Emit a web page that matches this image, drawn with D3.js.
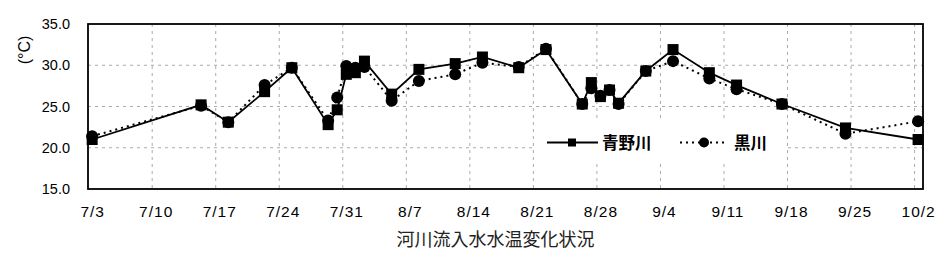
<!DOCTYPE html>
<html><head><meta charset="utf-8">
<script src="https://cdn.jsdelivr.net/npm/d3@7"></script>
<style>body{margin:0;background:#fff}</style>
</head><body>
<svg id="c" width="940" height="280"></svg>
<script>
const dates = ["7/3","7/15","7/18","7/22","7/25","7/29","7/30","7/31","8/1","8/2","8/5","8/8","8/12","8/15","8/19","8/22","8/26","8/27","8/28","8/29","8/30","9/2","9/5","9/9","9/12","9/17","9/24","10/2"];
const aono = [21.0,25.2,23.1,26.8,29.7,22.8,24.6,28.9,29.1,30.5,26.5,29.5,30.2,31.0,29.7,31.9,25.3,27.9,26.2,27.0,25.4,29.3,31.9,29.1,27.6,25.3,22.4,21.0];
const kuro = [21.4,25.1,23.1,27.6,29.7,23.3,26.1,29.9,29.7,29.8,25.7,28.1,28.9,30.3,29.8,32.0,25.3,27.2,26.3,27.0,25.3,29.3,30.5,28.4,27.1,25.3,21.7,23.2];
const xTickLabels = ["7/3","7/10","7/17","7/24","7/31","8/7","8/14","8/21","8/28","9/4","9/11","9/18","9/25","10/2"];
const yTicks = [15,20,25,30,35];
const seriesNames = ["青野川","黒川"];
const caption = "河川流入水水温変化状況";
const yTitle = "(°C)";

const parse = s => d3.timeParse("%Y/%m/%d")("2000/" + s);
const svg = d3.select("#c");
const L = 88, R = 923, T = 24, B = 189;
const x = d3.scaleTime()
  .domain([d3.timeHour.offset(parse("7/3"), -11), d3.timeHour.offset(parse("10/2"), 13)])
  .range([L, R]);
const y = d3.scaleLinear().domain([15, 35]).range([B, T]);

// gridlines
const g = svg.append("g");
g.selectAll("line.v").data(xTickLabels.slice(1)).enter().append("line")
  .attr("x1", d => x(parse(d)) - 3.5).attr("x2", d => x(parse(d)) - 3.5)
  .attr("y1", T).attr("y2", B)
  .attr("stroke", "#aaa").attr("stroke-width", 1).attr("stroke-dasharray", "3,4");
g.selectAll("line.h").data(yTicks.slice(1, -1)).enter().append("line")
  .attr("x1", L).attr("x2", R).attr("y1", d => y(d)).attr("y2", d => y(d))
  .attr("stroke", "#aaa").attr("stroke-width", 1).attr("stroke-dasharray", "3,4");

// legend background
svg.append("rect").attr("x", 536).attr("y", 118).attr("width", 249).attr("height", 42).attr("fill", "#fff");

// axes (labels via d3 axes)
const yAxis = d3.axisLeft(y).tickValues(yTicks).tickFormat(d3.format(".1f")).tickSize(0).tickPadding(18);
const ya = svg.append("g").attr("transform", `translate(${L},0)`).call(yAxis);
ya.select(".domain").remove();
ya.selectAll("text").attr("font-family", "Liberation Sans, Arial").attr("font-size", 14.5).attr("fill", "#000");

const xAxis = d3.axisBottom(x).tickValues(xTickLabels.map(parse)).tickFormat((d, i) => xTickLabels[i]).tickSize(0).tickPadding(17);
const xa = svg.append("g").attr("transform", `translate(0,${B})`).call(xAxis);
xa.select(".domain").remove();
xa.selectAll("text").attr("font-family", "Liberation Sans, Arial").attr("font-size", 15.5)
  .attr("letter-spacing", "1px").attr("fill", "#000");

// plot border
svg.append("rect").attr("x", L).attr("y", T).attr("width", R - L).attr("height", B - T)
  .attr("fill", "none").attr("stroke", "#000").attr("stroke-width", 1.8);

// series
const line = d3.line().x((d, i) => x(parse(dates[i]))).y(d => y(d));
svg.append("path").datum(aono).attr("d", line).attr("fill", "none").attr("stroke", "#000").attr("stroke-width", 1.8);
svg.selectAll("rect.a").data(aono).enter().append("rect")
  .attr("x", (d, i) => x(parse(dates[i])) - 5.5).attr("y", d => y(d) - 5.5)
  .attr("width", 11).attr("height", 11).attr("fill", "#000");
svg.append("path").datum(kuro).attr("d", line).attr("fill", "none").attr("stroke", "#000")
  .attr("stroke-width", 2).attr("stroke-dasharray", "2,4");
svg.selectAll("circle.k").data(kuro).enter().append("circle")
  .attr("cx", (d, i) => x(parse(dates[i]))).attr("cy", d => y(d)).attr("r", 6).attr("fill", "#000");

// legend
const lg = svg.append("g");
lg.append("line").attr("x1", 547).attr("x2", 598).attr("y1", 142.5).attr("y2", 142.5).attr("stroke", "#000").attr("stroke-width", 1.8);
lg.append("rect").attr("x", 568).attr("y", 138.5).attr("width", 8).attr("height", 8).attr("fill", "#000");
lg.append("text").attr("x", 602).attr("y", 148.5).text(seriesNames[0])
  .attr("font-family", "Noto Sans CJK JP").attr("font-size", 16.5).attr("font-weight", "bold");
lg.append("line").attr("x1", 680).attr("x2", 728).attr("y1", 142.5).attr("y2", 142.5).attr("stroke", "#000")
  .attr("stroke-width", 2).attr("stroke-dasharray", "2,4");
lg.append("circle").attr("cx", 704).attr("cy", 142.5).attr("r", 5).attr("fill", "#000");
lg.append("text").attr("x", 734).attr("y", 148.5).text(seriesNames[1])
  .attr("font-family", "Noto Sans CJK JP").attr("font-size", 16.5).attr("font-weight", "bold");

// y title
svg.append("text").attr("transform", "translate(30,50) rotate(-90)").attr("text-anchor", "middle")
  .attr("font-family", "Liberation Sans, Arial").attr("font-size", 16).text(yTitle);

// caption
svg.append("text").attr("x", 495.5).attr("y", 246).attr("text-anchor", "middle")
  .attr("font-family", "Noto Sans CJK JP").attr("font-size", 18).attr("fill", "#222").text(caption);
</script>
</body></html>
